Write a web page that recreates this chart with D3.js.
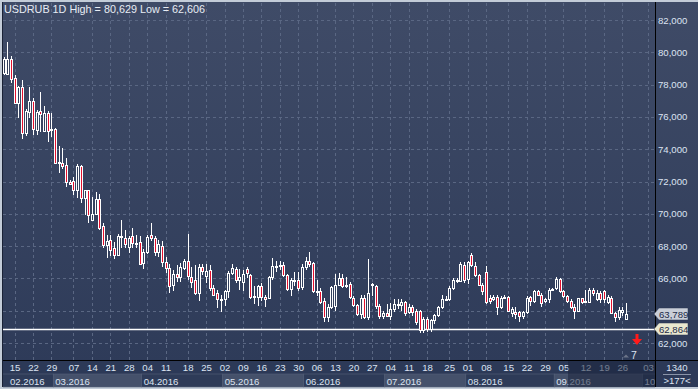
<!DOCTYPE html>
<html>
<head>
<meta charset="utf-8">
<script src="https://cdn.jsdelivr.net/npm/d3@7"></script>
<style>
  body { margin: 0; background: #ffffff; }
  svg { display: block; font-family: "Liberation Sans", Arial, sans-serif; }
</style>
</head>
<body>
<svg id="chart" width="698" height="389"></svg>
<script>
// USDRUB daily candles, 11.02.2016 - 27.09.2016
const opens = [
  78.70, 78.64, 79.57, 78.39, 76.88, 77.83, 74.98, 76.32, 76.98, 75.20,
  76.37, 75.13, 76.22, 75.23, 75.23, 73.13, 73.13, 73.02, 71.99, 72.05,
  71.47, 72.96, 70.96, 71.47, 69.62, 69.97, 70.91, 69.24, 68.07, 68.38,
  67.86, 67.45, 68.58, 68.48, 67.93, 68.60, 68.20, 68.23, 66.97, 67.62,
  68.69, 68.48, 67.65, 68.00, 67.03, 66.62, 65.59, 66.27, 66.07, 66.62,
  67.08, 66.10, 65.90, 65.11, 66.69, 66.15, 66.52, 65.40, 65.08, 64.70,
  64.72, 65.22, 66.35, 66.60, 65.90, 65.80, 66.60, 66.20, 64.85, 64.85,
  65.50, 64.85, 64.77, 66.10, 66.70, 66.80, 66.83, 66.20, 65.32, 65.90,
  65.90, 65.49, 66.69, 67.08, 66.97, 65.20, 65.24, 64.60, 63.59, 64.25,
  64.30, 65.59, 66.00, 65.60, 65.65, 64.77, 64.35, 63.80, 64.77, 63.59,
  65.60, 65.50, 64.30, 63.65, 63.85, 63.65, 64.10, 64.40, 64.35, 64.55,
  63.95, 64.20, 64.00, 64.00, 62.80, 63.50, 62.85, 63.40, 63.72, 64.23,
  64.70, 64.70, 65.40, 65.90, 65.86, 66.85, 65.95, 67.45, 66.75, 66.20,
  65.60, 66.41, 64.80, 64.75, 64.87, 64.25, 64.85, 64.87, 63.88, 63.90,
  63.90, 63.70, 63.90, 64.85, 64.60, 65.20, 65.00, 64.60, 64.70, 65.30,
  65.40, 65.96, 65.20, 64.90, 64.60, 64.25, 64.00, 64.77, 64.60, 64.55,
  65.30, 64.71, 65.10, 65.20, 64.55, 64.80, 63.88, 63.60, 63.95, 63.50
];
const highs = [
  79.70, 80.63, 79.77, 78.59, 77.90, 78.28, 76.49, 77.87, 77.19, 76.40,
  77.56, 76.67, 76.37, 76.26, 75.30, 74.20, 74.06, 73.44, 72.07, 72.30,
  73.06, 73.00, 71.50, 71.50, 71.06, 71.37, 71.20, 69.41, 68.69, 68.69,
  68.27, 68.73, 69.62, 69.00, 68.60, 69.14, 68.69, 68.60, 67.80, 68.70,
  69.41, 68.60, 68.40, 68.33, 67.30, 66.90, 66.50, 66.80, 66.93, 67.18,
  68.75, 66.69, 66.80, 66.90, 66.90, 66.90, 66.80, 65.60, 65.30, 65.00,
  65.30, 66.45, 66.90, 66.70, 66.60, 66.50, 66.70, 66.30, 65.50, 65.60,
  65.70, 65.00, 66.15, 67.24, 67.10, 67.10, 67.00, 66.30, 66.00, 66.40,
  66.40, 66.90, 67.30, 67.65, 67.00, 65.90, 65.40, 64.80, 64.40, 65.50,
  66.25, 66.32, 66.30, 66.10, 65.80, 64.90, 64.40, 64.95, 64.95, 67.18,
  65.70, 65.60, 64.40, 64.00, 64.40, 64.50, 64.70, 64.70, 64.70, 64.60,
  64.40, 64.35, 64.10, 64.05, 63.60, 63.60, 63.50, 63.80, 64.30, 65.00,
  64.90, 65.50, 66.00, 66.00, 67.00, 67.00, 67.10, 67.57, 67.00, 66.30,
  65.70, 66.79, 65.00, 65.00, 65.00, 64.90, 65.00, 64.90, 64.20, 64.20,
  64.00, 64.00, 64.90, 64.90, 65.30, 65.30, 65.10, 64.80, 65.40, 65.40,
  66.07, 66.05, 65.30, 65.00, 64.70, 64.40, 64.80, 64.80, 65.28, 65.40,
  65.40, 65.30, 65.20, 65.30, 64.95, 64.90, 63.95, 64.20, 64.20, 64.50
];
const lows = [
  78.60, 78.60, 78.08, 76.84, 75.91, 74.61, 74.84, 75.95, 74.88, 74.90,
  75.08, 75.08, 74.43, 74.77, 73.10, 72.55, 72.80, 71.68, 71.80, 71.16,
  70.96, 70.65, 69.93, 69.41, 69.60, 69.90, 69.00, 67.86, 67.28, 67.41,
  67.20, 67.40, 67.86, 67.86, 67.55, 67.86, 67.90, 66.80, 66.60, 67.50,
  68.30, 67.40, 67.30, 66.69, 66.32, 65.11, 65.20, 65.80, 65.80, 66.50,
  65.90, 65.39, 65.00, 64.62, 66.20, 65.70, 65.20, 64.90, 64.15, 63.94,
  64.30, 64.80, 66.20, 65.70, 65.30, 65.20, 66.00, 64.75, 64.40, 64.30,
  64.60, 64.20, 64.70, 65.90, 66.40, 66.50, 66.10, 65.20, 64.90, 65.50,
  65.20, 65.30, 66.50, 66.70, 65.10, 64.90, 64.40, 63.32, 63.32, 64.10,
  64.00, 65.50, 65.40, 65.40, 64.70, 64.20, 63.70, 63.50, 63.50, 63.40,
  64.90, 64.10, 63.50, 63.50, 63.60, 63.40, 63.90, 64.10, 64.00, 63.70,
  63.80, 63.70, 63.10, 62.606, 62.65, 62.70, 62.70, 63.20, 63.60, 64.10,
  64.60, 64.60, 65.30, 65.70, 65.80, 65.70, 65.67, 66.70, 66.10, 65.50,
  65.00, 64.40, 64.40, 64.60, 63.73, 64.10, 64.70, 63.90, 63.60, 63.50,
  63.32, 63.50, 63.80, 64.30, 64.50, 64.90, 64.20, 64.50, 64.50, 65.20,
  65.30, 65.10, 64.80, 64.50, 64.10, 63.49, 63.90, 64.40, 64.50, 64.50,
  64.90, 64.60, 64.50, 64.50, 64.40, 63.80, 63.32, 63.40, 63.70, 63.40
];
const closes = [
  79.60, 79.57, 78.35, 76.88, 77.83, 74.98, 76.37, 76.98, 75.23, 76.32,
  76.20, 76.22, 75.10, 75.28, 73.13, 73.23, 72.98, 71.95, 71.83, 71.47,
  72.96, 70.96, 71.47, 69.93, 69.97, 70.91, 69.14, 68.07, 68.32, 67.76,
  67.45, 68.60, 68.60, 68.11, 68.48, 68.17, 68.17, 66.87, 67.65, 68.58,
  68.48, 67.65, 68.13, 67.03, 66.62, 65.53, 66.27, 66.07, 66.70, 67.08,
  66.15, 65.80, 65.08, 66.69, 66.48, 66.48, 65.39, 65.00, 64.70, 64.72,
  65.24, 66.32, 66.62, 65.90, 66.10, 66.30, 66.35, 64.87, 64.88, 65.50,
  64.85, 64.70, 66.10, 66.77, 66.75, 66.85, 66.20, 65.32, 65.90, 65.92,
  65.40, 66.69, 67.08, 66.90, 65.24, 65.22, 64.56, 63.59, 64.25, 65.45,
  65.60, 66.00, 65.55, 65.62, 64.87, 64.35, 63.80, 64.77, 63.59, 65.08,
  65.65, 64.30, 63.65, 63.85, 63.70, 64.10, 64.40, 64.42, 64.56, 63.85,
  64.25, 63.95, 63.32, 62.80, 63.50, 62.85, 63.40, 63.72, 64.23, 64.70,
  64.72, 65.40, 65.90, 65.92, 66.90, 65.90, 67.00, 66.83, 66.20, 65.60,
  65.20, 64.56, 64.60, 64.85, 64.25, 64.77, 64.87, 64.00, 64.10, 63.80,
  63.65, 63.90, 64.77, 64.60, 65.20, 65.00, 64.50, 64.70, 65.30, 65.32,
  65.96, 65.20, 64.90, 64.60, 64.20, 64.00, 64.77, 64.55, 64.62, 65.30,
  65.10, 65.10, 64.70, 64.70, 64.85, 63.88, 63.60, 64.05, 64.05, 63.789
];

const priceTicks = [62, 64, 66, 68, 70, 72, 74, 76, 78, 80, 82];
const weekLabels = ["15","22","29","07","14","21","28","04","11","18","25","02","09","16","23","30",
                    "06","13","20","27","04","11","18","25","01","08","15","22","29","05","12","19","26","03"];
const weekBars = [3, 8, 13, 19, 24, 29, 34, 39, 44, 50, 55, 60, 65, 70, 75, 80,
                  85, 90, 95, 100, 105, 110, 115, 121, 126, 131, 137, 142, 147, 152, 158, 163, 168, 175];
const monthLabels = ["02.2016","03.2016","04.2016","05.2016","06.2016","07.2016","08.2016","09.2016","10.2016"];
const monthBars = [0, 14, 38, 60, 82, 104, 126, 150, 174];

const title = "USDRUB 1D High = 80,629 Low = 62,606";
const bidPrice = 63.789;
const levelPrice = 62.864;
const barsInfo = "1340";
const shiftInfo = ">177<";
const shiftBars = "7";

const W = 698, H = 389;
const plot = {left: 3, right: 655, top: 3, bottom: 360};
const axisFont = 9.6;

const svg = d3.select("#chart");
const ruFormat = d3.formatLocale({decimal: ",", thousands: " ", grouping: [3], currency: ["", ""]}).format(".3f");

const x = d3.scaleLinear().domain([0, closes.length - 1]).range([3.5, 626]);
const y = d3.scaleLinear().domain([62, 82]).range([343, 20]);

const defs = svg.append("defs");
const grad = defs.append("linearGradient").attr("id", "bg").attr("x1", 0).attr("y1", 0).attr("x2", 0).attr("y2", 1);
grad.append("stop").attr("offset", "0%").attr("stop-color", "#3f4b67");
grad.append("stop").attr("offset", "100%").attr("stop-color", "#2d3a58");
defs.append("clipPath").attr("id", "plotClip")
  .append("rect").attr("x", plot.left).attr("y", plot.top)
  .attr("width", plot.right - plot.left).attr("height", plot.bottom - plot.top);
defs.append("clipPath").attr("id", "axisClip")
  .append("rect").attr("x", plot.left).attr("y", plot.bottom)
  .attr("width", plot.right - plot.left).attr("height", H - plot.bottom);

// frame
svg.append("rect").attr("width", W).attr("height", H).attr("fill", "#c3ccd8");
svg.append("rect").attr("x", 2).attr("y", 2).attr("width", W - 2).attr("height", H - 4).attr("fill", "url(#bg)");
svg.append("rect").attr("x", plot.left).attr("y", plot.bottom).attr("width", W - plot.left).attr("height", H - 2 - plot.bottom)
  .attr("fill", "#2c3957");

// grid
const grid = svg.append("g").attr("clip-path", "url(#plotClip)");
grid.selectAll("line.h").data(priceTicks).join("line")
  .attr("x1", plot.left).attr("x2", plot.right)
  .attr("y1", d => Math.round(y(d)) + 0.5).attr("y2", d => Math.round(y(d)) + 0.5)
  .attr("stroke", "#5a6783").attr("stroke-dasharray", "3,3");
grid.selectAll("line.v").data(weekBars).join("line")
  .attr("y1", plot.top).attr("y2", plot.bottom)
  .attr("x1", d => Math.round(x(d)) + 0.5).attr("x2", d => Math.round(x(d)) + 0.5)
  .attr("stroke", "#5a6783").attr("stroke-dasharray", "3,3");

// level line
svg.append("line")
  .attr("x1", plot.left).attr("x2", plot.right)
  .attr("y1", Math.round(y(levelPrice)) + 0.5).attr("y2", Math.round(y(levelPrice)) + 0.5)
  .attr("stroke", "#ffffff").attr("stroke-width", 1.5);

// candles
const bars = d3.range(closes.length);
const cg = svg.append("g").attr("clip-path", "url(#plotClip)");
const px = i => Math.round(x(i)) - 1;
cg.selectAll("line.wick").data(bars).join("line")
  .attr("x1", i => px(i) + 1.5).attr("x2", i => px(i) + 1.5)
  .attr("y1", i => Math.round(y(highs[i]))).attr("y2", i => Math.round(y(lows[i])))
  .attr("stroke", "#ffffff").attr("stroke-width", 1);
cg.selectAll("rect.body").data(bars).join("rect")
  .attr("x", i => px(i) + 0.5)
  .attr("y", i => Math.round(y(Math.max(opens[i], closes[i]))) + 0.5)
  .attr("width", 2)
  .attr("height", i => Math.max(1, Math.round(y(Math.min(opens[i], closes[i]))) - Math.round(y(Math.max(opens[i], closes[i])))))
  .attr("fill", i => closes[i] < opens[i] ? "#e3102e" : "#33405d")
  .attr("stroke", "#ffffff").attr("stroke-width", 1);

// title
svg.append("text").attr("x", 4).attr("y", 13)
  .attr("fill", "#e8ecf4").attr("font-size", 10.8).text(title);

// axis lines
svg.append("line").attr("x1", plot.right + 0.5).attr("x2", plot.right + 0.5).attr("y1", 2).attr("y2", H - 2)
  .attr("stroke", "#000000");
svg.append("line").attr("x1", plot.left).attr("x2", W).attr("y1", plot.bottom + 0.5).attr("y2", plot.bottom + 0.5)
  .attr("stroke", "#000000");
svg.append("line").attr("x1", 2.5).attr("x2", 2.5).attr("y1", 2).attr("y2", H - 2)
  .attr("stroke", "#1a2236");

// price axis
const yAxis = svg.append("g").attr("transform", `translate(${plot.right + 2},0)`)
  .call(d3.axisRight(y).tickValues(priceTicks).tickSize(0).tickPadding(1).tickFormat(ruFormat));
yAxis.select(".domain").remove();
yAxis.selectAll("text").attr("fill", "#dde4f2").attr("font-size", axisFont)
  .attr("font-family", "Liberation Sans, Arial, sans-serif");

// price tags
const tag = (price, fill) => {
  const ty = Math.round(y(price));
  const g = svg.append("g");
  g.append("path")
    .attr("d", `M${plot.right - 1},${ty} L${plot.right + 4},${ty - 6} H${plot.right + 33} V${ty + 6} H${plot.right + 4} Z`)
    .attr("fill", fill).attr("stroke", "#2a3450").attr("stroke-width", 0.5);
  g.append("text").attr("x", plot.right + 4).attr("y", ty + 3.5)
    .attr("fill", "#1c2a48").attr("font-size", axisFont).text(ruFormat(price));
};
tag(bidPrice, "#c9ced8");
tag(levelPrice, "#e9e8cf");

// month panels
const monthStartX = monthBars.map(b => x(b) - 1.8);
const mg = svg.append("g").attr("clip-path", "url(#axisClip)");
mg.selectAll("rect").data(monthLabels).join("rect")
  .attr("x", (d, i) => monthStartX[i])
  .attr("y", 374)
  .attr("width", (d, i) => (i < monthLabels.length - 1 ? monthStartX[i + 1] : W) - monthStartX[i])
  .attr("height", 13)
  .attr("fill", (d, i) => i % 2 ? "#45516b" : "#2e3b58")
  .attr("stroke", "#56627a").attr("stroke-width", 0.6);
// a month label that runs into the price scale only shows what fits
mg.selectAll("text").data(monthLabels).join("text")
  .attr("x", (d, i) => Math.max(10, monthStartX[i] + 2))
  .attr("y", 384.5)
  .attr("fill", "#dde4f2").attr("font-size", axisFont)
  .text((d, i) => plot.right - (monthStartX[i] + 2) < 30 ? d.slice(0, 2) : d);

// week axis
const xAxis = svg.append("g").attr("transform", `translate(0,${plot.bottom + 1})`)
  .call(d3.axisBottom(x).tickValues(weekBars).tickSize(0).tickPadding(3).tickFormat((d, i) => weekLabels[i]));
xAxis.select(".domain").remove();
xAxis.selectAll("text").attr("fill", "#dde4f2").attr("font-size", axisFont)
  .attr("font-family", "Liberation Sans, Arial, sans-serif");

// shifted (future) zone
svg.append("rect").attr("x", 568).attr("y", plot.bottom + 1).attr("width", plot.right - 568).attr("height", H - 3 - plot.bottom)
  .attr("fill", "#1b253c").attr("opacity", 0.55);

// bars info box
svg.append("text").attr("x", 677).attr("y", 370.5).attr("text-anchor", "middle")
  .attr("fill", "#dde4f2").attr("font-size", axisFont).text(barsInfo);
svg.append("line").attr("x1", 663).attr("x2", 691).attr("y1", 374.5).attr("y2", 374.5).attr("stroke", "#8a94a8");
svg.append("text").attr("x", 677).attr("y", 384).attr("text-anchor", "middle")
  .attr("fill", "#dde4f2").attr("font-size", axisFont).text(shiftInfo);

// down arrow and shift marker
svg.append("path")
  .attr("d", "M635.5,334 h3 v5 h3.5 l-5,6 l-5,-6 h3.5 z")
  .attr("fill", "#ff1a1a");
svg.append("path").attr("d", "M623,357.5 l3,-3 l3,3 z").attr("fill", "#6b7488");
svg.append("text").attr("x", 631).attr("y", 358.5).attr("fill", "#dde4f2").attr("font-size", 10.5).text(shiftBars);
</script>
</body>
</html>
